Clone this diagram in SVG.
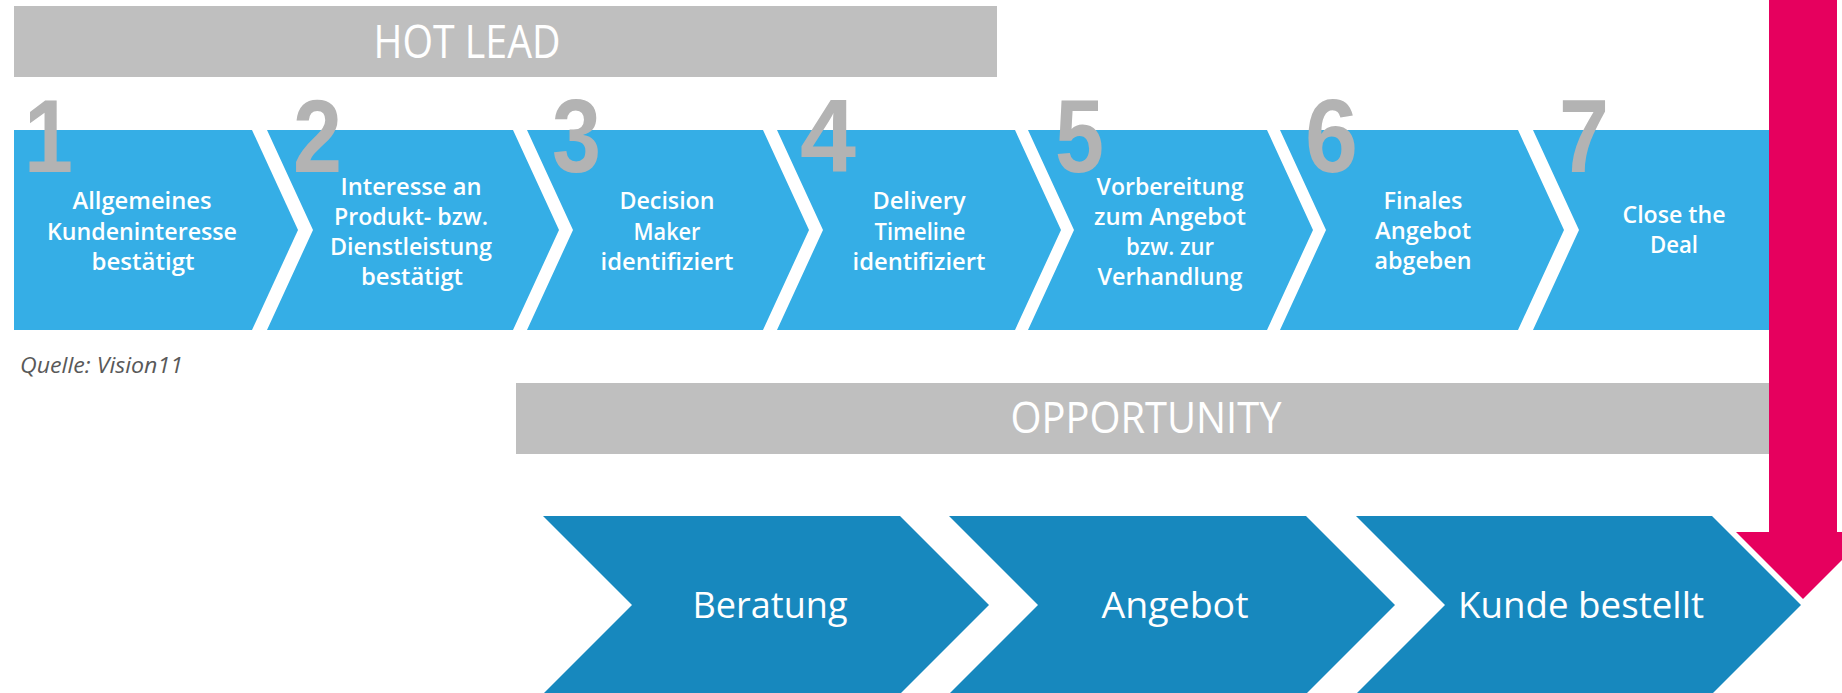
<svg xmlns="http://www.w3.org/2000/svg" width="1842" height="693" viewBox="0 0 1842 693">
<style>
.bar { fill: #BFBFBF; }
.bartxt { font-family: "Open Sans", "Liberation Sans", sans-serif; font-weight: 400; fill: #FFFFFF; text-anchor: middle; }
.top { fill: #35AEE6; }
.bot { fill: #1788BE; }
.num { font-family: "Liberation Sans", Arial, sans-serif; font-weight: 700; font-size: 104px; fill: #B3B3B3; }
.step { font-family: "Open Sans", "Liberation Sans", sans-serif; font-weight: 600; font-size: 24px; fill: #FFFFFF; text-anchor: middle; }
.big { font-family: "Open Sans", "Liberation Sans", sans-serif; font-weight: 400; font-size: 36px; fill: #FFFFFF; text-anchor: middle; }
.src { font-family: "Open Sans", "Liberation Sans", sans-serif; font-style: italic; font-size: 22px; fill: #595959; }
.pink { fill: #E6005E; }
</style>
<rect width="1842" height="693" fill="#FFFFFF"/>

<g id="hot-lead">
  <rect class="bar" x="14" y="6" width="983" height="71"/>
  <text class="bartxt" x="467" y="58" font-size="46" textLength="187" lengthAdjust="spacingAndGlyphs">HOT LEAD</text>
</g>

<g id="step1">
  <path class="top" d="M14,130 H252 L298,230 L252,330 H14 Z"/>
  <text class="num" x="24" y="172" textLength="49" lengthAdjust="spacingAndGlyphs">1</text>
  <text class="step" x="142" y="209" textLength="139" lengthAdjust="spacingAndGlyphs">Allgemeines</text>
  <text class="step" x="142" y="240" textLength="190" lengthAdjust="spacingAndGlyphs">Kundeninteresse</text>
  <text class="step" x="143" y="270" textLength="103" lengthAdjust="spacingAndGlyphs">bestätigt</text>
</g>

<g id="step2">
  <path class="top" d="M267,130 H513 L559,230 L513,330 H267 L313,230 Z"/>
  <text class="num" x="293" y="172" textLength="49" lengthAdjust="spacingAndGlyphs">2</text>
  <text class="step" x="411" y="195" textLength="141" lengthAdjust="spacingAndGlyphs">Interesse an</text>
  <text class="step" x="411" y="225" textLength="154" lengthAdjust="spacingAndGlyphs">Produkt- bzw.</text>
  <text class="step" x="411" y="255" textLength="162" lengthAdjust="spacingAndGlyphs">Dienstleistung</text>
  <text class="step" x="412" y="285" textLength="102" lengthAdjust="spacingAndGlyphs">bestätigt</text>
</g>

<g id="step3">
  <path class="top" d="M527,130 H763 L809,230 L763,330 H527 L573,230 Z"/>
  <text class="num" x="552" y="172" textLength="49" lengthAdjust="spacingAndGlyphs">3</text>
  <text class="step" x="667" y="209" textLength="95" lengthAdjust="spacingAndGlyphs">Decision</text>
  <text class="step" x="667" y="240" textLength="67" lengthAdjust="spacingAndGlyphs">Maker</text>
  <text class="step" x="667" y="270" textLength="133" lengthAdjust="spacingAndGlyphs">identifiziert</text>
</g>

<g id="step4">
  <path class="top" d="M777,130 H1015 L1061,230 L1015,330 H777 L823,230 Z"/>
  <text class="num" x="800" y="172" textLength="56" lengthAdjust="spacingAndGlyphs">4</text>
  <text class="step" x="919" y="209" textLength="93" lengthAdjust="spacingAndGlyphs">Delivery</text>
  <text class="step" x="920" y="240" textLength="91" lengthAdjust="spacingAndGlyphs">Timeline</text>
  <text class="step" x="919" y="270" textLength="133" lengthAdjust="spacingAndGlyphs">identifiziert</text>
</g>

<g id="step5">
  <path class="top" d="M1028,130 H1267 L1313,230 L1267,330 H1028 L1074,230 Z"/>
  <text class="num" x="1055" y="172" textLength="49" lengthAdjust="spacingAndGlyphs">5</text>
  <text class="step" x="1170" y="195" textLength="147" lengthAdjust="spacingAndGlyphs">Vorbereitung</text>
  <text class="step" x="1170" y="225" textLength="152" lengthAdjust="spacingAndGlyphs">zum Angebot</text>
  <text class="step" x="1170" y="255" textLength="88" lengthAdjust="spacingAndGlyphs">bzw. zur</text>
  <text class="step" x="1170" y="285" textLength="145" lengthAdjust="spacingAndGlyphs">Verhandlung</text>
</g>

<g id="step6">
  <path class="top" d="M1280,130 H1518 L1564,230 L1518,330 H1280 L1326,230 Z"/>
  <text class="num" x="1305" y="172" textLength="53" lengthAdjust="spacingAndGlyphs">6</text>
  <text class="step" x="1423" y="209" textLength="79" lengthAdjust="spacingAndGlyphs">Finales</text>
  <text class="step" x="1423" y="239" textLength="96" lengthAdjust="spacingAndGlyphs">Angebot</text>
  <text class="step" x="1423" y="269" textLength="97" lengthAdjust="spacingAndGlyphs">abgeben</text>
</g>

<g id="step7">
  <path class="top" d="M1533,130 H1769 V330 H1533 L1579,230 Z"/>
  <text class="num" x="1559" y="172" textLength="50" lengthAdjust="spacingAndGlyphs">7</text>
  <text class="step" x="1674" y="223" textLength="103" lengthAdjust="spacingAndGlyphs">Close the</text>
  <text class="step" x="1674" y="253" textLength="48" lengthAdjust="spacingAndGlyphs">Deal</text>
</g>

<g id="source">
  <text class="src" x="20" y="373" textLength="163" lengthAdjust="spacingAndGlyphs">Quelle: Vision11</text>
</g>

<g id="opportunity">
  <rect class="bar" x="516" y="383" width="1253" height="71"/>
  <text class="bartxt" x="1146" y="433" font-size="43" textLength="271" lengthAdjust="spacingAndGlyphs">OPPORTUNITY</text>
</g>

<g id="beratung">
  <path class="bot" d="M543,516 H900 L989,605 L900,694 H543 L632,605 Z"/>
  <text class="big" x="770" y="618" textLength="155" lengthAdjust="spacingAndGlyphs">Beratung</text>
</g>

<g id="angebot">
  <path class="bot" d="M949,516 H1306 L1395,605 L1306,694 H949 L1038,605 Z"/>
  <text class="big" x="1175" y="618" textLength="147" lengthAdjust="spacingAndGlyphs">Angebot</text>
</g>

<g id="kunde-bestellt">
  <path class="bot" d="M1356,516 H1712 L1801,605 L1712,694 H1356 L1445,605 Z"/>
  <text class="big" x="1581" y="618" textLength="246" lengthAdjust="spacingAndGlyphs">Kunde bestellt</text>
</g>

<g id="connectors">
  <path class="pink" d="M1769,0 H1837 V532 H1870 L1803,599 L1736,532 H1769 Z"/>
</g>
</svg>
